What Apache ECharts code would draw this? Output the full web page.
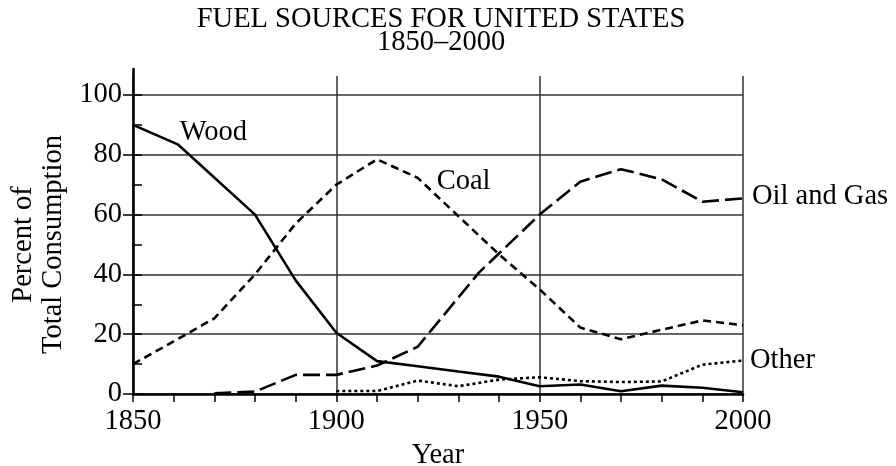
<!DOCTYPE html>
<html>
<head>
<meta charset="utf-8">
<title>Fuel Sources for United States 1850-2000</title>
<script src="https://cdn.jsdelivr.net/npm/echarts@6/dist/echarts.min.js"></script>
<style>
  html, body { margin: 0; padding: 0; background: #fff; }
  #chart { width: 896px; height: 466px; }
</style>
</head>
<body>
<div id="chart"></div>
<script>
// --- data ---
const titleLines = ['FUEL SOURCES FOR UNITED STATES', '1850–2000'];
const yearTicks = [1850, 1900, 1950, 2000];

const woodYears  = [1850, 1861, 1880, 1890, 1900, 1910, 1920, 1930, 1940, 1950, 1960, 1970, 1980, 1990, 2000];
const woodValues = [90, 83.5, 60, 38, 20.5, 11, 9.3, 7.5, 5.8, 2.6, 3.2, 0.9, 2.8, 2.1, 0.6];

const coalYears  = [1850, 1860, 1870, 1880, 1890, 1900, 1910, 1920, 1930, 1940, 1950, 1960, 1970, 1980, 1990, 2000];
const coalValues = [10, 17.6, 25.3, 40, 57, 70, 78.5, 72.3, 59.5, 46.7, 35, 22.2, 18.3, 21.5, 24.6, 23];

const oilYears  = [1870, 1880, 1890, 1900, 1910, 1920, 1935, 1950, 1960, 1970, 1980, 1990, 2000];
const oilValues = [0.2, 0.8, 6.4, 6.4, 9.5, 15.8, 40.5, 60, 71, 75.2, 71.8, 64.3, 65.4];

const otherYears  = [1900, 1910, 1920, 1930, 1940, 1950, 1960, 1970, 1980, 1990, 2000];
const otherValues = [1, 1, 4.5, 2.6, 4.8, 5.6, 4.3, 4.0, 4.2, 9.8, 11.2];

const FONT = '"Liberation Serif", "Times New Roman", serif';
const ink = '#000';
const gridInk = '#333';

const textBase = { fontFamily: FONT, fontSize: 28.5, color: ink };

// label placed next to one point of the line (Wood, Coal)
const toData = (years, values, labelAt, labelText, labelOpt) =>
  years.map((y, i) => {
    const item = { value: [y, values[i]] };
    if (i === labelAt) {
      item.label = Object.assign({ show: true, formatter: labelText, position: 'right' }, textBase, labelOpt);
    }
    return item;
  });

const lineSeries = (name, data, dash, extra) => Object.assign({
  name: name,
  type: 'line',
  xAxisIndex: 0,
  yAxisIndex: 0,
  data: data,
  symbol: 'circle',
  symbolSize: 0,
  showSymbol: true,
  label: { show: false },
  lineStyle: { color: ink, width: 2.6, type: dash, cap: 'butt' },
  itemStyle: { color: ink },
  z: 5
}, extra);

const chart = echarts.init(document.getElementById('chart'));

// fixed plot box; outerBoundsMode none so v6 does not shrink it for the labels
const gridBox = { left: 133, right: 153, bottom: 72, outerBoundsMode: 'none' };

const option = {
  backgroundColor: '#fff',
  animation: false,
  title: {
    text: titleLines.join('\n'),
    left: 436,
    top: 3,
    textAlign: 'center',
    textStyle: { fontFamily: FONT, fontSize: 28.5, fontWeight: 'normal', color: ink, lineHeight: 23 }
  },
  grid: [
    Object.assign({ top: 95 }, gridBox),   // main plot, 0..100
    Object.assign({ top: 76 }, gridBox),   // vertical rules run a bit above 100
    Object.assign({ top: 69 }, gridBox)    // y axis line runs higher still
  ],
  xAxis: [
    {
      gridIndex: 0,
      type: 'value',
      min: 1850,
      max: 2000,
      interval: 10,
      axisLine: { show: true, onZero: false, lineStyle: { color: ink, width: 2.6 } },
      axisTick: { show: true, length: 8, lineStyle: { color: ink, width: 1.5 } },
      axisLabel: Object.assign({
        margin: 13,
        formatter: v => (yearTicks.indexOf(v) >= 0 ? String(v) : '')
      }, textBase),
      splitLine: { show: false },
      name: 'Year',
      nameLocation: 'middle',
      nameGap: 41,
      nameTextStyle: textBase
    },
    {
      gridIndex: 1,
      type: 'value',
      min: 1850,
      max: 2000,
      interval: 50,
      axisLine: { show: false },
      axisTick: { show: false },
      axisLabel: { show: false },
      splitLine: { show: true, lineStyle: { color: gridInk, width: 1.5 } }
    },
    { gridIndex: 2, type: 'value', min: 1850, max: 2000, show: false }
  ],
  yAxis: [
    {
      gridIndex: 0,
      type: 'value',
      position: 'left',
      min: 0,
      max: 100,
      interval: 20,
      axisLine: { show: false },
      axisTick: { show: true, length: 10, lineStyle: { color: ink, width: 1.5 } },
      axisLabel: Object.assign({ margin: 11 }, textBase),
      splitLine: { show: true, lineStyle: { color: gridInk, width: 1.5 } },
      name: 'Percent of\nTotal Consumption',
      nameLocation: 'middle',
      nameRotate: 90,
      nameGap: 64,
      nameTextStyle: Object.assign({ lineHeight: 30 }, textBase)
    },
    {
      // minor ticks every 10, pointing into the plot
      gridIndex: 0,
      type: 'value',
      position: 'left',
      min: 0,
      max: 100,
      interval: 10,
      axisLine: { show: false },
      axisTick: { show: true, inside: true, length: 9, lineStyle: { color: ink, width: 1.5 } },
      axisLabel: { show: false },
      splitLine: { show: false }
    },
    { gridIndex: 1, type: 'value', min: 0, max: 1, show: false },
    {
      gridIndex: 2,
      type: 'value',
      position: 'left',
      min: 0,
      max: 1,
      axisLine: { show: true, onZero: false, lineStyle: { color: ink, width: 2.6 } },
      axisTick: { show: false },
      axisLabel: { show: false },
      splitLine: { show: false }
    }
  ],
  series: [
    lineSeries('Wood', toData(woodYears, woodValues, 1, 'Wood', { distance: 0, offset: [2, -12] }), 'solid'),
    lineSeries('Coal', toData(coalYears, coalValues, 7, 'Coal', { distance: 19, offset: [0, 4] }), [8, 5]),
    lineSeries('Oil and Gas', toData(oilYears, oilValues, -1), [17, 6], {
      endLabel: Object.assign({ show: true, formatter: 'Oil and Gas', distance: 9, offset: [0, -2] }, textBase)
    }),
    lineSeries('Other', toData(otherYears, otherValues, -1), [3, 3], {
      endLabel: Object.assign({ show: true, formatter: 'Other', distance: 7 }, textBase)
    })
  ]
};

chart.setOption(option);
</script>
</body>
</html>
